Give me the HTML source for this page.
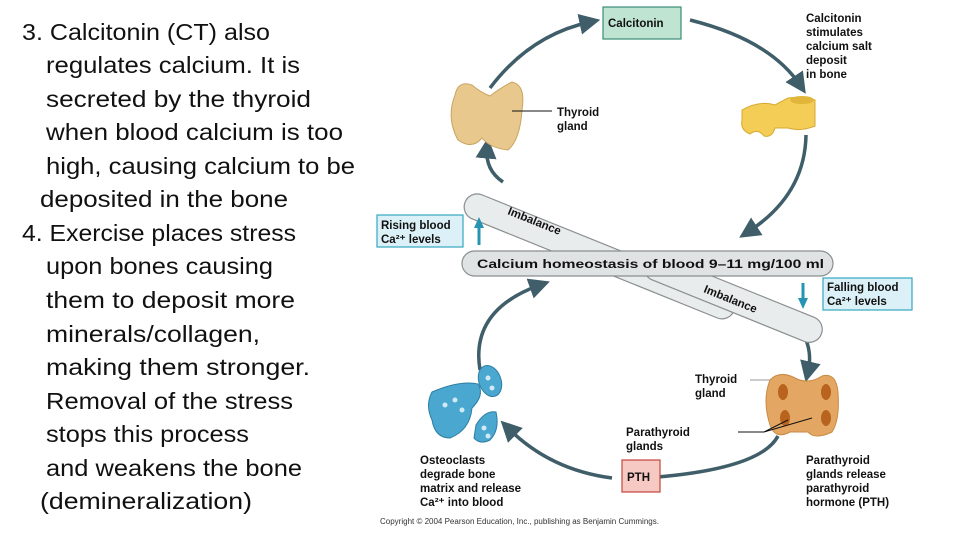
<!DOCTYPE html>
<html><head><meta charset="utf-8"><style>
html,body{margin:0;padding:0;background:#fff;}
svg{display:block;}
.l{font-family:"Liberation Sans",sans-serif;font-size:23px;fill:#111;}
.d{font-family:"Liberation Sans",sans-serif;font-weight:bold;font-size:11.5px;fill:#111;}
</style></head><body>
<svg width="960" height="540" viewBox="0 0 960 540" xmlns="http://www.w3.org/2000/svg">
<defs>
<marker id="ah" markerWidth="6" markerHeight="6" refX="3" refY="3" orient="auto" markerUnits="strokeWidth"><path d="M0,0 L6,3 L0,6 z" fill="#3f5e69"/></marker>
</defs>
<g class="l">
<text x="22" y="40" textLength="248" lengthAdjust="spacingAndGlyphs">3. Calcitonin (CT) also</text>
<text x="46" y="73" textLength="254" lengthAdjust="spacingAndGlyphs">regulates calcium. It is</text>
<text x="46" y="107" textLength="265" lengthAdjust="spacingAndGlyphs">secreted by the thyroid</text>
<text x="46" y="140" textLength="297" lengthAdjust="spacingAndGlyphs">when blood calcium is too</text>
<text x="46" y="174" textLength="309" lengthAdjust="spacingAndGlyphs">high, causing calcium to be</text>
<text x="40" y="207" textLength="248" lengthAdjust="spacingAndGlyphs">deposited in the bone</text>
<text x="22" y="241" textLength="274" lengthAdjust="spacingAndGlyphs">4. Exercise places stress</text>
<text x="46" y="274" textLength="227" lengthAdjust="spacingAndGlyphs">upon bones causing</text>
<text x="46" y="308" textLength="249" lengthAdjust="spacingAndGlyphs">them to deposit more</text>
<text x="46" y="342" textLength="214" lengthAdjust="spacingAndGlyphs">minerals/collagen,</text>
<text x="46" y="375" textLength="264" lengthAdjust="spacingAndGlyphs">making them stronger.</text>
<text x="46" y="409" textLength="247" lengthAdjust="spacingAndGlyphs">Removal of the stress</text>
<text x="46" y="442" textLength="203" lengthAdjust="spacingAndGlyphs">stops this process</text>
<text x="46" y="476" textLength="256" lengthAdjust="spacingAndGlyphs">and weakens the bone</text>
<text x="40" y="509" textLength="212" lengthAdjust="spacingAndGlyphs">(demineralization)</text>
</g>

<!-- arrows -->
<g fill="none" stroke="#3f5e69" stroke-width="3.5" marker-end="url(#ah)">
<path d="M490,88 Q530,35 590,22"/>
<path d="M690,20 Q770,40 800,85"/>
<path d="M806,135 Q805,195 748,232"/>
<path d="M503,182 Q485,170 487,148"/>
<path d="M480,370 Q470,310 540,285"/>
<path d="M806,340 Q812,355 808,372"/>
<path d="M778,436 Q760,470 645,478"/>
<path d="M612,478 Q550,470 508,428"/>
</g>

<!-- imbalance bars -->
<g stroke="#8a8f90" stroke-width="1.2" fill="#e9ecec">
<rect x="470" y="190" width="290" height="26" rx="13" transform="rotate(22 470 190)"/>
<rect x="650" y="251" width="190" height="26" rx="13" transform="rotate(22 650 251)"/>
<rect x="462" y="251" width="371" height="25" rx="12.5" fill="#dfe3e3"/>
</g>
<text class="d" x="507" y="214" transform="rotate(22 507 214)" font-size="11">Imbalance</text>
<text class="d" x="703" y="292" transform="rotate(22 703 292)" font-size="11">Imbalance</text>
<text class="d" x="477" y="268" font-size="11.5" textLength="347" lengthAdjust="spacingAndGlyphs">Calcium homeostasis of blood 9–11 mg/100 ml</text>

<!-- Calcitonin box -->
<rect x="603" y="7" width="78" height="32" fill="#bfe4d2" stroke="#3c8b78" stroke-width="1.2"/>
<text class="d" x="608" y="27">Calcitonin</text>
<!-- PTH box -->
<rect x="622" y="460" width="38" height="32" fill="#f6c9c2" stroke="#c2473c" stroke-width="1.2"/>
<text class="d" x="627" y="481">PTH</text>
<!-- rising/falling -->
<rect x="377" y="215" width="86" height="32" fill="#dcf1f7" stroke="#35a6c2" stroke-width="1.2"/>
<text class="d" x="381" y="229">Rising blood</text>
<text class="d" x="381" y="243">Ca²⁺ levels</text>
<rect x="823" y="278" width="89" height="32" fill="#dcf1f7" stroke="#35a6c2" stroke-width="1.2"/>
<text class="d" x="827" y="291">Falling blood</text>
<text class="d" x="827" y="305">Ca²⁺ levels</text>
<path d="M479,245 V226" stroke="#2794b3" stroke-width="3"/><path d="M474,228 L479,217 L484,228z" fill="#2794b3"/>
<path d="M803,283 V300" stroke="#2794b3" stroke-width="3"/><path d="M798,298 L803,309 L808,298z" fill="#2794b3"/>

<!-- thyroid top -->
<path d="M455,95 Q458,80 472,85 Q480,92 490,96 Q500,88 512,82 Q526,85 522,110 Q520,140 508,150 Q490,148 482,138 Q472,150 458,140 Q446,118 455,95z" fill="#e8c88c" stroke="#c9a461" stroke-width="1"/>
<line x1="512" y1="111" x2="552" y2="111" stroke="#111" stroke-width="1"/>
<text class="d" x="557" y="116">Thyroid</text><text class="d" x="557" y="130">gland</text>

<!-- bone -->
<path d="M742,110 Q760,100 775,105 L788,98 Q805,96 815,100 V126 Q800,132 788,128 L775,128 Q772,138 764,136 Q758,128 750,134 Q740,130 742,120z" fill="#f3cd55" stroke="#d6a930" stroke-width="1"/>
<ellipse cx="802" cy="100" rx="12" ry="4" fill="#e1b53a"/>
<g class="d"><text x="806" y="22">Calcitonin</text><text x="806" y="36">stimulates</text><text x="806" y="50">calcium salt</text><text x="806" y="64">deposit</text><text x="806" y="78">in bone</text></g>

<!-- thyroid bottom -->
<path d="M770,380 Q780,370 795,378 Q808,385 822,376 Q836,372 838,392 Q840,420 832,432 Q815,440 808,432 L790,432 Q775,440 770,425 Q762,400 770,380z" fill="#e3a763" stroke="#c98a45" stroke-width="1"/>
<ellipse cx="783" cy="392" rx="5" ry="8" fill="#b8641f"/><ellipse cx="826" cy="392" rx="5" ry="8" fill="#b8641f"/>
<ellipse cx="785" cy="418" rx="5" ry="8" fill="#b8641f"/><ellipse cx="826" cy="418" rx="5" ry="8" fill="#b8641f"/>
<line x1="750" y1="380" x2="770" y2="380" stroke="#999" stroke-width="1"/>
<path d="M738,432 L764,432 L788,420 M764,432 L812,418" stroke="#111" stroke-width="1" fill="none"/>
<g class="d"><text x="695" y="383">Thyroid</text><text x="695" y="397">gland</text>
<text x="626" y="436">Parathyroid</text><text x="626" y="450">glands</text>
<text x="806" y="464">Parathyroid</text><text x="806" y="478">glands release</text><text x="806" y="492">parathyroid</text><text x="806" y="506">hormone (PTH)</text>
<text x="420" y="464">Osteoclasts</text><text x="420" y="478">degrade bone</text><text x="420" y="492">matrix and release</text><text x="420" y="506">Ca²⁺ into blood</text></g>

<!-- osteoclasts -->
<g fill="#4aa7cf" stroke="#2d7ea3" stroke-width="1">
<path d="M432,392 Q460,380 478,384 Q485,395 472,408 Q470,430 450,438 Q435,438 432,420 Q425,405 432,392z"/>
<ellipse cx="490" cy="381" rx="11" ry="16" transform="rotate(-20 490 381)"/>
<path d="M476,425 Q485,410 496,412 Q500,430 490,440 Q480,445 474,438z"/>
</g>
<g fill="#cfeaf5"><circle cx="445" cy="405" r="2.5"/><circle cx="455" cy="400" r="2.5"/><circle cx="462" cy="410" r="2.5"/><circle cx="488" cy="378" r="2.5"/><circle cx="492" cy="388" r="2.5"/><circle cx="484" cy="428" r="2.5"/><circle cx="488" cy="436" r="2.5"/></g>

<text x="380" y="524" font-family="Liberation Sans,sans-serif" font-size="8" fill="#333">Copyright © 2004 Pearson Education, Inc., publishing as Benjamin Cummings.</text>
</svg>
</body></html>
